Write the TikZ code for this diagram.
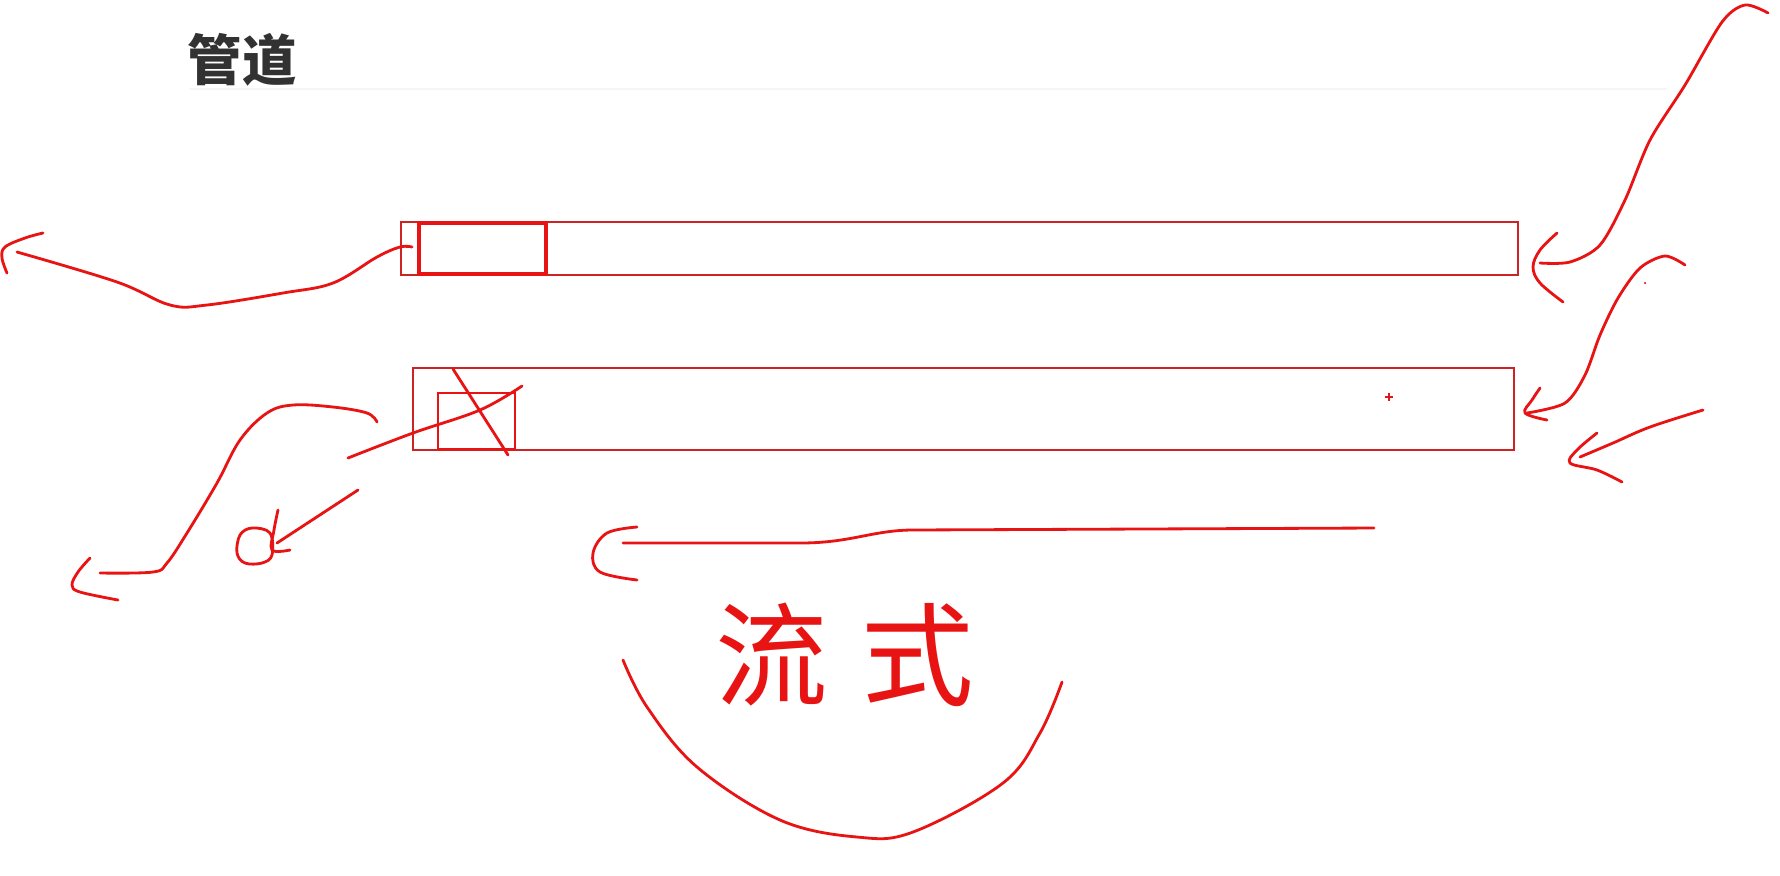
\documentclass[tikz,border=0pt]{standalone}
\usepackage{fontspec}
\newfontfamily\cjk{Noto Sans CJK SC}
\definecolor{inkred}{RGB}{232,20,20}
\definecolor{barred}{RGB}{205,35,35}
\definecolor{titlegray}{RGB}{50,50,50}
\begin{document}
\begin{tikzpicture}[x=0.01cm, y=-0.01cm,
    bar/.style={rectangle, draw=barred, line width=0.6pt, inner sep=0pt},
    slot/.style={rectangle, draw=inkred, line width=1.1pt, inner sep=0pt},
    pen/.style={draw=inkred, line width=0.8pt, line cap=round, line join=round}
]
\fill[white] (0,0) rectangle (1780,875);
\useasboundingbox (0,0) rectangle (1780,875);

\node[font=\cjk\bfseries\fontsize{15.5}{16}\selectfont, text=titlegray, inner sep=0pt] (title) at (242,60) {管道};
\draw[gray!8, line width=0.5pt] (190,89) -- (1667,89);

\node[bar, minimum width=11.17cm, minimum height=0.53cm] (pipe1) at (959.5,248.5) {};
\node[slot, minimum width=1.27cm, minimum height=0.51cm] (cell1) at (482.5,248.5) {};
\node[bar, minimum width=11.01cm, minimum height=0.82cm] (pipe2) at (963.5,409) {};
\node[slot, line width=0.8pt, minimum width=0.77cm, minimum height=0.56cm] (cell2) at (476.5,421) {};

\draw[pen] (453,369) -- (508,455);
\draw[pen] plot[smooth, tension=.6] coordinates {(348,458) (413,433) (480,410) (522,386)};
\draw[inkred, line width=0.4pt] (1385,397) -- (1393,397) (1389,393) -- (1389,401);

\draw[pen] plot[smooth, tension=.6] coordinates {(412,247) (400,247) (377,257) (333,283) (283,293) (207,305) (170,305) (117,282) (17,252)};
\draw[pen] plot[smooth, tension=.6] coordinates {(43,233) (25,238) (5,247) (2,258) (7,273)};

\draw[pen] plot[smooth, tension=.6] coordinates {(377,422) (367,413) (333,407) (293,405) (267,413) (240,440) (217,483) (187,533) (167,563) (153,572) (100,573)};
\draw[pen] plot[smooth, tension=.6] coordinates {(90,558) (78,572) (72,585) (80,592) (118,600)};

\draw[pen] (358,490) -- (277,543);
\draw[pen] plot[smooth, tension=.6] coordinates {(278,510) (274,530) (272,550) (290,550)};
\draw[pen] plot[smooth cycle, tension=.6] coordinates {(270,533) (252,528) (240,535) (237,553) (245,563) (262,563) (272,555)};

\draw[pen] plot[smooth, tension=.5] coordinates {(1768,13) (1745,5) (1722,22) (1685,85) (1650,140) (1625,200) (1600,245) (1570,262) (1540,263)};
\draw[pen] plot[smooth, tension=.6] coordinates {(1557,233) (1540,250) (1533,267) (1540,283) (1563,302)};

\draw[pen] plot[smooth, tension=.5] coordinates {(1685,265) (1665,256) (1640,268) (1618,298) (1600,335) (1585,375) (1565,403) (1527,413)};
\draw[pen] plot[smooth, tension=.6] coordinates {(1540,388) (1532,400) (1525,413) (1547,420)};
\fill[inkred] (1645,283) circle (1.2);

\draw[pen] plot[smooth, tension=.6] coordinates {(1703,410) (1650,427) (1613,443) (1580,457)};
\draw[pen] plot[smooth, tension=.6] coordinates {(1597,433) (1577,450) (1570,463) (1597,470) (1622,482)};

\draw[pen] (1374,528) -- (910,530) .. controls (870,531) and (850,543) .. (800,543) -- (623,543);
\draw[pen] plot[smooth, tension=.6] coordinates {(637,527) (607,533) (593,553) (600,572) (637,580)};

\node[font=\cjk\fontsize{32}{32}\selectfont, text=inkred, inner sep=0pt] (stream) at (845,655) {流\hspace{0.33cm}式};

\draw[pen] plot[smooth, tension=.6] coordinates {(623,660) (647,707) (697,767) (780,820) (857,837) (913,832) (1003,783) (1040,733) (1062,682)};
\end{tikzpicture}
\end{document}
